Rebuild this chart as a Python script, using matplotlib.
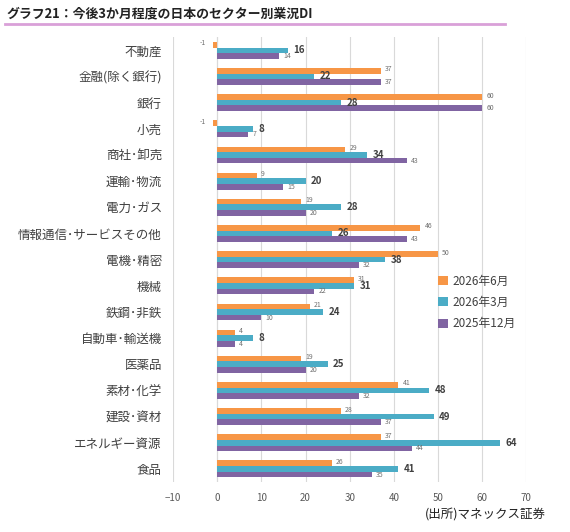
import matplotlib.pyplot as plt
import numpy as np

plt.rcParams['font.family'] = ['Noto Sans CJK JP', 'DejaVu Sans']

# data
sectors = ['不動産', '金融(除く銀行)', '銀行', '小売', '商社･卸売', '運輸･物流', '電力･ガス',
           '情報通信･サービスその他', '電機･精密', '機械', '鉄鋼･非鉄', '自動車･輸送機',
           '医薬品', '素材･化学', '建設･資材', 'エネルギー資源', '食品']
jun26 = [-1, 37, 60, -1, 29, 9, 19, 46, 50, 31, 21, 4, 19, 41, 28, 37, 26]
mar26 = [16, 22, 28, 8, 34, 20, 28, 26, 38, 31, 24, 8, 25, 48, 49, 64, 41]
dec25 = [14, 37, 60, 7, 43, 15, 20, 43, 32, 22, 10, 4, 20, 32, 37, 44, 35]
series_names = ['2026年6月', '2026年3月', '2025年12月']
colors = ['#F79646', '#4BACC6', '#8064A2']

fig = plt.figure(figsize=(5.7, 5.32), dpi=100)
ax = fig.add_axes([0.3035, 0.094, 0.62, 0.836])

y = np.arange(len(sectors))
h = 0.215
offsets = [-h, 0, h]
for vals, off, c, name in zip([jun26, mar26, dec25], offsets, colors, series_names):
    ax.barh(y + off, vals, height=h, color=c, label=name, zorder=2)
    bold = (name == '2026年3月')
    for yi, v in zip(y, vals):
        if bold:
            ax.annotate(str(v), (v, yi + off), xytext=(4, 0), textcoords='offset points',
                        va='center', ha='left', fontsize=7, fontweight='bold', color='#404040')
        else:
            # orange labels sit a touch higher so they clear the bold ones
            dy = 1 if name == '2026年6月' else 0
            ax.annotate(str(v), (v, yi + off), xytext=(-5 if v < 0 else 3, dy),
                        textcoords='offset points', va='center',
                        ha='right' if v < 0 else 'left', fontsize=5, color='#707070')

ax.set_xlim(-10, 70)
ax.set_ylim(len(sectors) - 0.5, -0.5)
ax.set_xticks(np.arange(-10, 71, 10))
ax.set_yticks(y)
ax.set_yticklabels(sectors, fontsize=9, color='#404040')
ax.tick_params(axis='x', labelsize=7, colors='#595959', length=0, pad=8)
ax.tick_params(axis='y', length=0, pad=8)
ax.grid(axis='x', color='#D9D9D9', linewidth=0.8, zorder=0)
for s in ax.spines.values():
    s.set_visible(False)
ax.axvline(0, color='#D9D9D9', linewidth=0.8, zorder=1)

ax.legend(loc='upper left', bbox_to_anchor=(0.72, 0.49), frameon=False, fontsize=8.5,
          handlelength=0.8, handleheight=0.8, handletextpad=0.4, labelspacing=0.7,
          labelcolor='#404040')

fig.text(0.012, 0.974, 'グラフ21：今後3か月程度の日本のセクター別業況DI', fontsize=9.3,
         fontweight='bold', color='#222222', va='center')
fig.add_artist(plt.Line2D([0.008, 0.886], [0.955, 0.955], color='#D9A0D8', linewidth=2))
fig.text(0.958, 0.031, '(出所)マネックス証券', fontsize=9, ha='right', va='center', color='#222222')

fig.savefig('out.png')
